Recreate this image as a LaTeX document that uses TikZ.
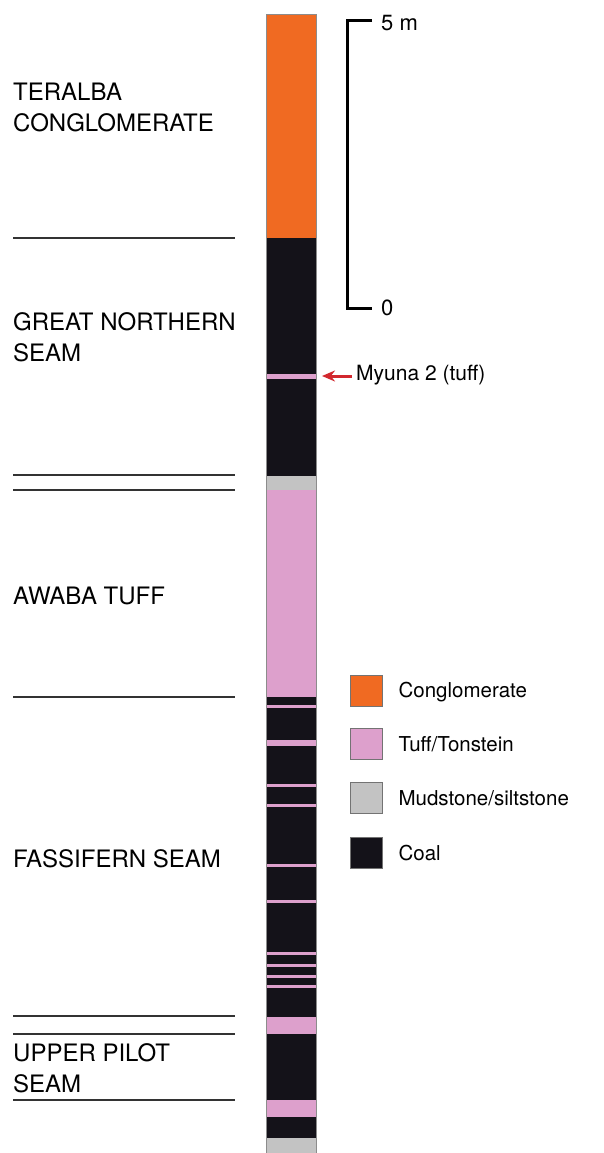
\documentclass[tikz,border=0pt]{standalone}
\usepackage{fontspec}
\setmainfont{TeX Gyre Heros}
\usepackage{tikz}
\usetikzlibrary{positioning, arrows.meta, calc}
\definecolor{conglorange}{HTML}{F06A22}
\definecolor{tuffpink}{HTML}{DDA0CC}
\definecolor{mudgray}{HTML}{C3C3C3}
\definecolor{coalblack}{HTML}{141219}
\definecolor{arrowred}{HTML}{D2282E}
\definecolor{rulegray}{HTML}{333333}

\tikzset{
  unitlabel/.style={anchor=base west, inner sep=0pt, align=left,
    font=\fontsize{24}{31}\selectfont},
  contact/.style={rulegray, line width=2pt},
  legendbox/.style={draw=black!55, line width=0.8pt, minimum width=32pt,
    minimum height=31pt, inner sep=0pt},
  legendtext/.style={inner sep=0pt, text height=14.5pt, text depth=0pt,
    font=\fontsize{20.5}{24}\selectfont},
  scalelabel/.style={anchor=base west, inner sep=0pt, font=\fontsize{22}{24}\selectfont},
}

\begin{document}
\begin{tikzpicture}[x=1pt, y=-1pt]
  \useasboundingbox (0,0) rectangle (604,1153);

  % column
  \fill[conglorange] (266,14) rectangle (316,238);
  \fill[coalblack] (266,238) rectangle (316,1138);
  \fill[mudgray] (266,476) rectangle (316,490);
  \fill[mudgray] (266,1138) rectangle (316,1153);
  \fill[tuffpink] (266,490) rectangle (316,697);
  \foreach \ytop/\ybot in {374/379, 705/708, 740/746, 784/787, 804/807, 864/867,
      900/903, 952/955, 964/967, 975/977.5, 985/987.5, 1017/1034, 1100/1117}
    \fill[tuffpink] (266,\ytop) rectangle (316,\ybot);
  \draw[black!45, line width=0.7pt] (266,1153) -- (266,14) -- (316,14) -- (316,1153);

  % unit boundaries and names
  \foreach \ycontact in {238, 475, 490, 697, 1016, 1034, 1100}
    \draw[contact] (13,\ycontact) -- (235,\ycontact);
  \node[unitlabel] (teralba) at (13,131.5) {TERALBA\\CONGLOMERATE};
  \node[unitlabel] (greatnorthern) at (13,361) {GREAT NORTHERN\\SEAM};
  \node[unitlabel] (awaba) at (13,604) {AWABA TUFF};
  \node[unitlabel] (fassifern) at (13,867.5) {FASSIFERN SEAM};
  \node[unitlabel] (upperpilot) at (13,1092) {UPPER PILOT\\SEAM};

  % scale bar
  \coordinate (scaletop) at (372,21);
  \coordinate (scalebot) at (372,308);
  \draw[line width=3pt] (scaletop) -- ++(-25,0) |- (scalebot);
  \node[scalelabel] (fivem) at (381,31) {5 m};
  \node[scalelabel] (zero) at (381,315) {0};

  % tuff marker
  \coordinate (myunaband) at (322,376);
  \node[anchor=base west, inner xsep=4pt, inner ysep=0pt,
        font=\fontsize{21}{24}\selectfont] (myuna) at (352,380.5) {Myuna 2 (tuff)};
  \draw[-{Stealth[length=13pt, width=11pt]}, arrowred, line width=3pt]
    (myuna.west |- myunaband) -- (myunaband);

  % legend
  \node[legendbox, fill=conglorange] (lconglo) at (366,690.5) {};
  \node[legendbox, fill=tuffpink, below=22pt of lconglo] (ltuff) {};
  \node[legendbox, fill=mudgray, below=22pt of ltuff] (lmud) {};
  \node[legendbox, fill=coalblack, below=23pt of lmud] (lcoal) {};
  \node[legendtext, right=16pt of lconglo] (tconglo) {Conglomerate};
  \node[legendtext, right=16pt of ltuff] (ttuff) {Tuff/Tonstein};
  \node[legendtext, right=16pt of lmud] (tmud) {Mudstone/siltstone};
  \node[legendtext, right=16pt of lcoal] (tcoal) {Coal};
\end{tikzpicture}
\end{document}
